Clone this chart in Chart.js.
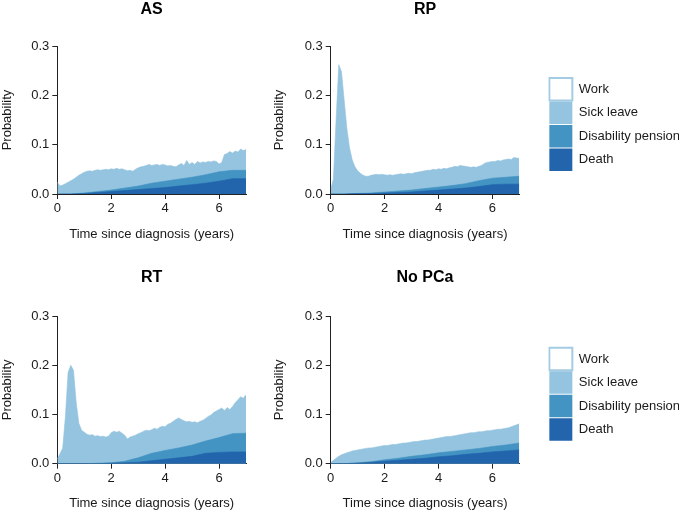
<!DOCTYPE html>
<html>
<head>
<meta charset="utf-8">
<title>Probability of not working after diagnosis</title>
<script src="https://cdn.jsdelivr.net/npm/chart.js@4"></script>
<style>
  html, body { margin: 0; padding: 0; background: #fff; overflow: hidden; }
  body { width: 679px; height: 511px; position: relative; }
  canvas { position: absolute; }
</style>
</head>
<body>
<canvas id="cAS" width="270" height="250" style="left:0;top:0"></canvas>
<canvas id="cRP" width="420" height="250" style="left:270px;top:0"></canvas>
<canvas id="cRT" width="270" height="261" style="left:0;top:250px"></canvas>
<canvas id="cNo" width="420" height="261" style="left:270px;top:250px"></canvas>
<script>
// Stacked state probabilities by treatment group (values are the upper edge of each band)

const panelTitles = ['AS', 'RP', 'RT', 'No PCa'];
const legendNames = ['Work', 'Sick leave', 'Disability pension', 'Death'];
const legendColors = ['#ffffff', '#94c4df', '#4393c3', '#2265ad'];
const workBorder = '#a3cce3';

const xTickLabels = ['0', '2', '4', '6'];
const yTickLabels = ['0.0', '0.1', '0.2', '0.3'];

const timeFine = [0.0, 0.1, 0.2, 0.3, 0.4, 0.5, 0.6, 0.7, 0.8, 0.9,
  1.0, 1.1, 1.2, 1.3, 1.4, 1.5, 1.6, 1.7, 1.8, 1.9,
  2.0, 2.1, 2.2, 2.3, 2.4, 2.5, 2.6, 2.7, 2.8, 2.9,
  3.0, 3.1, 3.2, 3.3, 3.4, 3.5, 3.6, 3.7, 3.8, 3.9,
  4.0, 4.1, 4.2, 4.3, 4.4, 4.5, 4.6, 4.7, 4.8, 4.9,
  5.0, 5.1, 5.2, 5.3, 5.4, 5.5, 5.6, 5.7, 5.8, 5.9,
  6.0, 6.1, 6.2, 6.3, 6.4, 6.5, 6.6, 6.7, 6.8, 6.9, 7.0];
const timeCoarse = [0, 0.5, 1, 1.5, 2, 2.5, 3, 3.5, 4, 4.5, 5, 5.5, 6, 6.5, 7];

// AS
const asSick = [0.024, 0.016, 0.018, 0.021, 0.024, 0.027, 0.030, 0.034, 0.038, 0.041,
  0.044, 0.046, 0.047, 0.046, 0.048, 0.049, 0.048, 0.049, 0.050, 0.049,
  0.051, 0.050, 0.052, 0.050, 0.051, 0.049, 0.047, 0.048, 0.046, 0.050,
  0.053, 0.055, 0.056, 0.058, 0.060, 0.058, 0.059, 0.060, 0.058, 0.060,
  0.059, 0.057, 0.058, 0.056, 0.055, 0.059, 0.062, 0.058, 0.068, 0.060,
  0.064, 0.060, 0.066, 0.063, 0.065, 0.064, 0.066, 0.065, 0.067, 0.066,
  0.061, 0.064, 0.080, 0.082, 0.086, 0.083, 0.087, 0.085, 0.091, 0.088, 0.090];
const asPension = [0, 0, 0.002, 0.005, 0.008, 0.012, 0.016, 0.022, 0.026, 0.030, 0.034, 0.039, 0.045, 0.048, 0.048];
const asDeath = [0, 0, 0.001, 0.003, 0.005, 0.007, 0.009, 0.011, 0.013, 0.016, 0.019, 0.022, 0.026, 0.031, 0.031];

// RP
const rpSick = [0.010, 0.030, 0.150, 0.262, 0.248, 0.190, 0.133, 0.093, 0.069, 0.055,
  0.047, 0.042, 0.038, 0.036, 0.036, 0.038, 0.039, 0.040, 0.039, 0.040,
  0.039, 0.038, 0.039, 0.038, 0.039, 0.040, 0.041, 0.040, 0.041, 0.042,
  0.041, 0.043, 0.044, 0.045, 0.046, 0.047, 0.048, 0.048, 0.050, 0.049,
  0.051, 0.050, 0.052, 0.051, 0.053, 0.054, 0.056, 0.055, 0.058, 0.057,
  0.056, 0.055, 0.054, 0.055, 0.054, 0.056, 0.058, 0.062, 0.064, 0.065,
  0.066, 0.066, 0.068, 0.067, 0.069, 0.070, 0.071, 0.070, 0.074, 0.073, 0.072];
const rpPension = [0, 0, 0.001, 0.002, 0.004, 0.006, 0.008, 0.011, 0.014, 0.017, 0.021, 0.027, 0.032, 0.034, 0.036];
const rpDeath = [0, 0, 0.001, 0.001, 0.002, 0.003, 0.004, 0.006, 0.008, 0.010, 0.012, 0.015, 0.019, 0.020, 0.020];

// RT
const rtSick = [0.010, 0.020, 0.032, 0.095, 0.185, 0.200, 0.190, 0.125, 0.082, 0.068,
  0.064, 0.060, 0.058, 0.059, 0.056, 0.057, 0.055, 0.056, 0.054, 0.056,
  0.063, 0.066, 0.064, 0.066, 0.062, 0.058, 0.050, 0.054, 0.056, 0.058,
  0.061, 0.063, 0.066, 0.068, 0.067, 0.069, 0.072, 0.070, 0.074, 0.076,
  0.075, 0.080, 0.082, 0.086, 0.090, 0.093, 0.090, 0.087, 0.085, 0.086,
  0.084, 0.085, 0.083, 0.086, 0.088, 0.092, 0.096, 0.099, 0.104, 0.107,
  0.110, 0.113, 0.108, 0.114, 0.110, 0.116, 0.124, 0.130, 0.136, 0.133, 0.140];
const rtPension = [0, 0, 0, 0.001, 0.002, 0.005, 0.012, 0.021, 0.027, 0.032, 0.038, 0.046, 0.053, 0.061, 0.062];
const rtDeath = [0, 0, 0, 0, 0.001, 0.002, 0.003, 0.006, 0.009, 0.012, 0.015, 0.021, 0.023, 0.024, 0.024];

// No PCa
const noSick = [0.002, 0.007, 0.011, 0.015, 0.018, 0.020, 0.022, 0.024, 0.026, 0.027,
  0.028, 0.029, 0.030, 0.031, 0.032, 0.032, 0.033, 0.034, 0.035, 0.036,
  0.037, 0.037, 0.038, 0.039, 0.039, 0.040, 0.041, 0.042, 0.042, 0.043,
  0.044, 0.045, 0.045, 0.046, 0.047, 0.048, 0.048, 0.049, 0.050, 0.051,
  0.052, 0.053, 0.054, 0.055, 0.055, 0.056, 0.057, 0.058, 0.059, 0.060,
  0.061, 0.062, 0.063, 0.063, 0.064, 0.065, 0.065, 0.066, 0.067, 0.067,
  0.068, 0.069, 0.070, 0.070, 0.071, 0.072, 0.073, 0.075, 0.077, 0.079, 0.081];
const noPension = [0, 0, 0.002, 0.004, 0.008, 0.011, 0.015, 0.018, 0.022, 0.025, 0.028, 0.031, 0.035, 0.038, 0.042];
const noDeath = [0, 0, 0.001, 0.003, 0.005, 0.007, 0.009, 0.011, 0.014, 0.016, 0.019, 0.021, 0.024, 0.026, 0.028];

Chart.defaults.font.family = '"Liberation Sans", Arial, Helvetica, sans-serif';
Chart.defaults.font.size = 13;
Chart.defaults.color = '#1a1a1a';
Chart.defaults.animation = false;

const axisColor = '#222';

function toPoints(xs, ys) {
    return xs.map((x, i) => ({ x: x, y: ys[i] }));
}

function band(label, xs, ys, color) {
    return {
        label,
        data: toPoints(xs, ys),
        backgroundColor: color,
        borderColor: color,
        borderWidth: 0.6,
        pointRadius: 0,
        fill: 'origin',
        tension: 0
    };
}

/**
 * One panel; row 0/1 and col 0/1 set the fitted box sizes
 */
function makePanel(canvasId, idx, sick, pension, death, row, col) {
    const isRight = col === 1;
    const geo = row === 0
        ? { titlePad: { top: 2, bottom: 28 }, xH: 56, xTitlePad: 8.2 }
        : { titlePad: { top: 20, bottom: 30 }, xH: 47.3, xTitlePad: 0.2 };

    const scales = {
        x: {
            type: 'linear', min: 0, max: 7, z: 1,
            ticks: { stepSize: 2, includeBounds: false, padding: 2, color: '#1a1a1a',
                callback: (v, i) => xTickLabels[i] },
            grid: { drawOnChartArea: false, tickLength: 5, color: axisColor },
            border: { color: axisColor },
            title: { display: true, text: 'Time since diagnosis (years)', color: '#1a1a1a',
                padding: { top: 0, bottom: geo.xTitlePad } },
            afterFit: s => { s.height = geo.xH; }
        },
        y: {
            type: 'linear', min: 0, max: 0.3, z: 1,
            ticks: { stepSize: 0.1, padding: 3, color: '#1a1a1a',
                callback: (v, i) => yTickLabels[i] },
            grid: { drawOnChartArea: false, tickLength: 5, color: axisColor },
            border: { color: axisColor },
            title: { display: true, text: 'Probability', color: '#1a1a1a',
                padding: { top: isRight ? 1.7 : 0, bottom: 0 } },
            afterFit: s => { s.width = isRight ? 60.7 : 57.3; }
        }
    };
    if (isRight) {
        // empty gap between plot and legend
        scales.gap = {
            type: 'linear', position: 'right', display: true,
            grid: { display: false, drawTicks: false },
            border: { display: false },
            ticks: { display: false },
            afterFit: s => { s.width = 29; }
        };
    }

    return new Chart(document.getElementById(canvasId), {
        type: 'line',
        data: {
            datasets: [
                band('Death', timeCoarse, death, legendColors[3]),
                band('Disability pension', timeCoarse, pension, legendColors[2]),
                band('Sick leave', timeFine, sick, legendColors[1])
            ]
        },
        options: {
            responsive: false,
            layout: { padding: { left: 0, right: isRight ? 0 : 24, top: 0, bottom: 0 } },
            plugins: {
                title: {
                    display: true, text: panelTitles[idx], color: '#000', fullSize: false,
                    font: { size: 16, weight: 'bold', lineHeight: 1 },
                    padding: geo.titlePad
                },
                legend: {
                    display: isRight,
                    position: 'right',
                    fullSize: false,
                    maxWidth: 200,
                    title: { display: true, text: '', font: { size: 8, lineHeight: 1 }, padding: 0.5 },
                    labels: {
                        boxWidth: 23, boxHeight: 22.5, padding: 1, color: '#1a1a1a',
                        font: { size: 13 },
                        generateLabels: () => legendNames.map((name, i) => ({
                            text: name,
                            fillStyle: legendColors[i],
                            strokeStyle: i === 0 ? workBorder : legendColors[i],
                            lineWidth: i === 0 ? 2 : 0,
                            hidden: false,
                            datasetIndex: i
                        }))
                    }
                },
                tooltip: { enabled: false }
            },
            scales
        }
    });
}

makePanel('cAS', 0, asSick, asPension, asDeath, 0, 0);
makePanel('cRP', 1, rpSick, rpPension, rpDeath, 0, 1);
makePanel('cRT', 2, rtSick, rtPension, rtDeath, 1, 0);
makePanel('cNo', 3, noSick, noPension, noDeath, 1, 1);
</script>
</body>
</html>
